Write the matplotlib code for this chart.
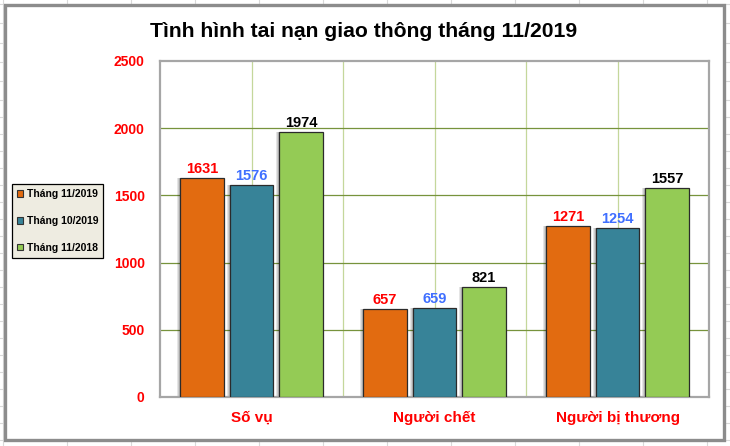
import numpy as np
import matplotlib
matplotlib.use('Agg')
import matplotlib.pyplot as plt
from matplotlib.patches import Rectangle, Patch
from matplotlib.lines import Line2D

plt.rcParams['font.family'] = ['Liberation Sans', 'DejaVu Sans']

# du lieu
categories = ['Số vụ', 'Người chết', 'Người bị thương']
series_names = ['Tháng 11/2019', 'Tháng 10/2019', 'Tháng 11/2018']
t11_2019 = [1631, 657, 1271]
t10_2019 = [1576, 659, 1254]
t11_2018 = [1974, 821, 1557]
y_ticks = [0, 500, 1000, 1500, 2000, 2500]
title = 'Tình hình tai nạn giao thông tháng 11/2019'

series = [t11_2019, t10_2019, t11_2018]
bar_colors = ['#E26B10', '#378398', '#94CB55']
label_colors = ['#FF0000', '#3F6FFF', '#000000']
offsets = [-0.27, 0.0, 0.27]
bar_w = 0.24

W, H = 730, 446
fig = plt.figure(figsize=(W / 100, H / 100), dpi=100)
fig.patch.set_facecolor('white')

# luoi cua bang tinh phia sau
for x in np.arange(3, W, 64):
    fig.add_artist(Line2D([x / W, x / W], [0, 1], color='#D9D9D9', lw=0.8, zorder=0))
rows = [4, 23, 43, 62, 81] + list(range(100, H, 17))
for y in rows:
    fig.add_artist(Line2D([0, 1], [1 - y / H, 1 - y / H], color='#D9D9D9', lw=0.8, zorder=0))

# khung bieu do
fig.add_artist(Rectangle((5 / W, 1 - 440 / H), 719 / W, 435 / H, transform=fig.transFigure,
                         facecolor='white', edgecolor='#8C8C8C', lw=2.4, zorder=0.5))

# vung ve
ax = fig.add_axes([160 / W, 1 - 397 / H, (709 - 160) / W, (397 - 61) / H])
ax.set_zorder(1)
ax.set_facecolor('white')
x = np.arange(len(categories))
px = 1 / 183.0

for s, vals in enumerate(series):
    xs = x + offsets[s]
    # bong do
    for k in range(1, 4):
        ax.bar(xs - k * px, vals, bar_w, color='black', alpha=0.10, lw=0, zorder=2)
    ax.bar(xs, vals, bar_w, color=bar_colors[s], edgecolor='#2B2B2B', lw=0.9, zorder=3)
    for xi, v in zip(xs, vals):
        ax.annotate(str(v), (xi, v), xytext=(0, 1.5), textcoords='offset points',
                    ha='center', va='bottom', fontsize=10.5, fontweight='bold',
                    color=label_colors[s], zorder=4)

ax.set_xlim(-0.5, 2.5)
ax.set_ylim(0, 2500)
for gx in [0, 0.5, 1, 1.5, 2]:
    ax.axvline(gx, color='#C4D79B', lw=0.9, zorder=1)
for gy in y_ticks[1:-1]:
    ax.axhline(gy, color='#77933C', lw=0.9, zorder=1)

ax.set_yticks(y_ticks)
ax.set_yticklabels([str(t) for t in y_ticks], color='#FF0000', fontsize=10, fontweight='bold')
ax.set_xticks(x)
ax.set_xticklabels(categories, color='#FF0000', fontsize=11, fontweight='bold')
ax.tick_params(axis='y', length=0, pad=11)
ax.tick_params(axis='x', length=0, pad=10)
for sp in ax.spines.values():
    sp.set_color('#A6A6A6')
    sp.set_linewidth(1.6)

# chu thich
handles = [Patch(facecolor=c, edgecolor='#333333', lw=0.8) for c in bar_colors]
leg = fig.legend(handles, series_names, loc='center left', bbox_to_anchor=(12 / W, 1 - 221 / H),
                 prop={'size': 7.5, 'weight': 'bold'}, frameon=True, fancybox=False,
                 facecolor='#EEECE1', edgecolor='black', framealpha=1,
                 handlelength=0.6, handleheight=0.6, handletextpad=0.3,
                 labelspacing=1.6, borderpad=0.5, borderaxespad=0)
leg.get_frame().set_linewidth(0.9)
leg.set_zorder(5)

fig.text(364 / W, 1 - 37 / H, title, ha='center', va='baseline', fontsize=15.2, fontweight='bold')

plt.savefig('out.png', dpi=100)
